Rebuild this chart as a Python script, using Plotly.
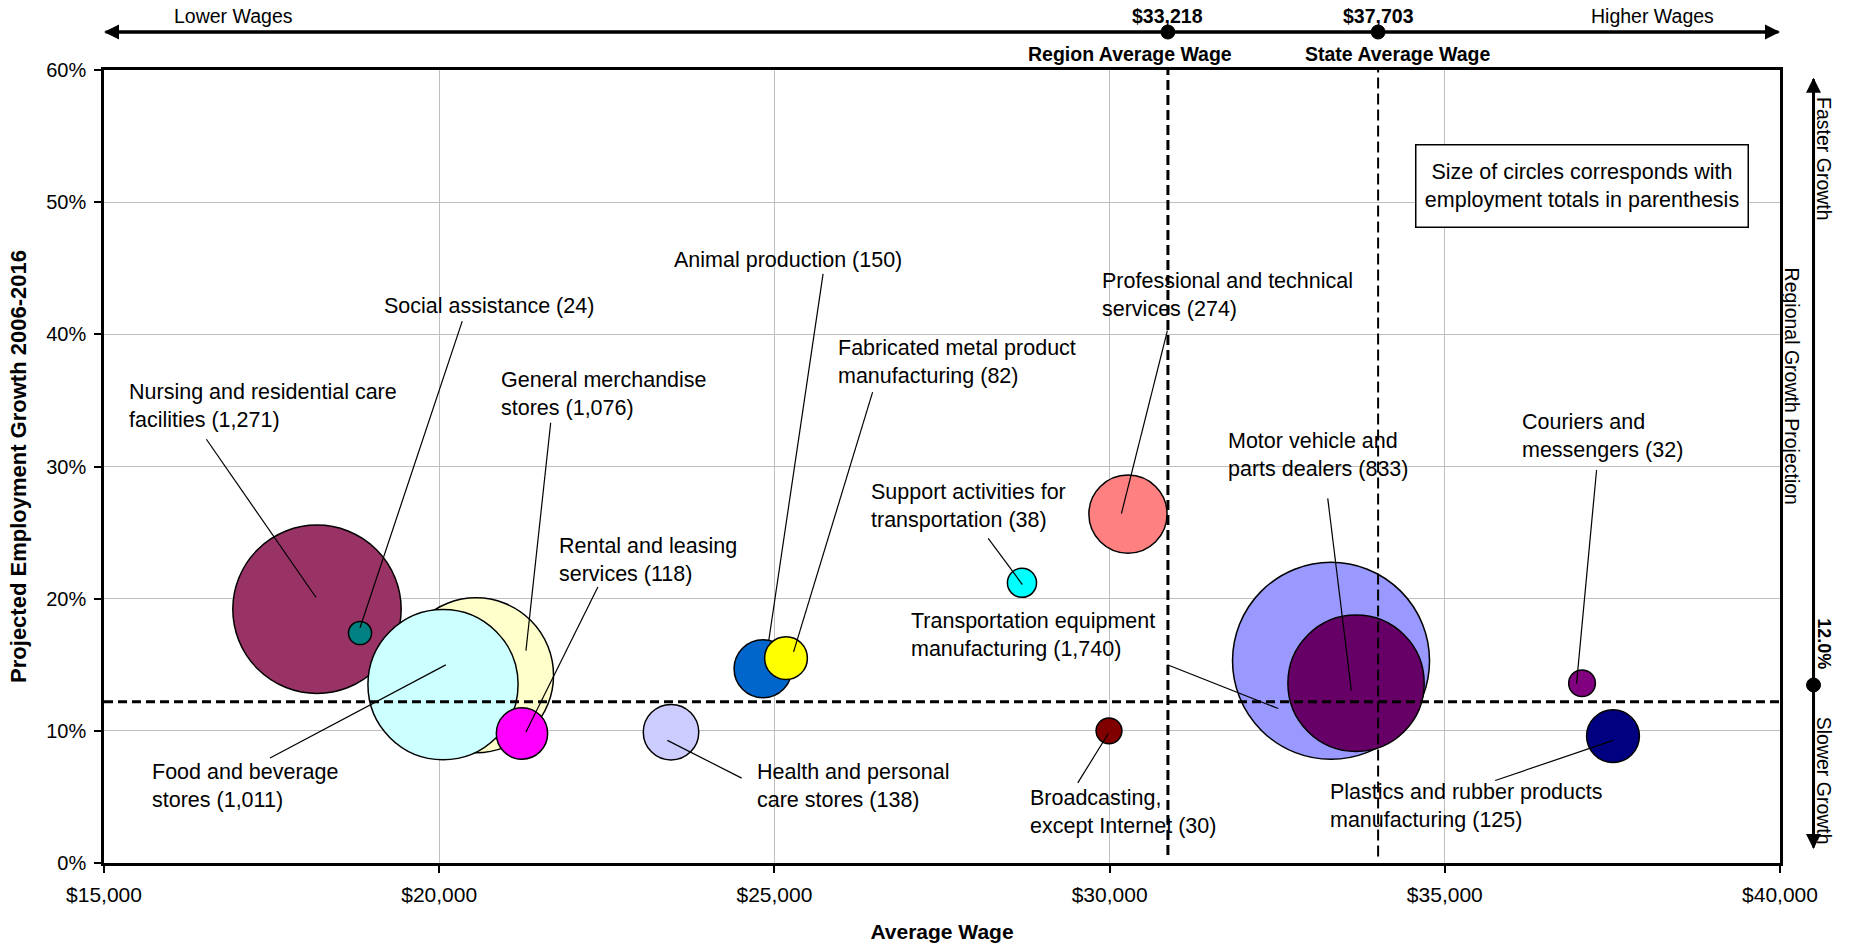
import plotly.graph_objects as go

# ---------------- data ----------------
industries = [
    "Nursing and residential care facilities",
    "Social assistance",
    "General merchandise stores",
    "Food and beverage stores",
    "Rental and leasing services",
    "Health and personal care stores",
    "Animal production",
    "Fabricated metal product manufacturing",
    "Support activities for transportation",
    "Professional and technical services",
    "Broadcasting, except Internet",
    "Transportation equipment manufacturing",
    "Motor vehicle and parts dealers",
    "Couriers and messengers",
    "Plastics and rubber products manufacturing",
]
label_text = [
    "Nursing and residential care<br>facilities (1,271)",
    "Social assistance (24)",
    "General merchandise<br>stores (1,076)",
    "Food and beverage<br>stores (1,011)",
    "Rental and leasing<br>services (118)",
    "Health and personal<br>care stores (138)",
    "Animal production (150)",
    "Fabricated metal product<br>manufacturing (82)",
    "Support activities for<br>transportation (38)",
    "Professional and technical<br>services (274)",
    "Broadcasting,<br>except Internet (30)",
    "Transportation equipment<br>manufacturing (1,740)",
    "Motor vehicle and<br>parts dealers (833)",
    "Couriers and<br>messengers (32)",
    "Plastics and rubber products<br>manufacturing (125)",
]
avg_wage = [18177, 18819, 20550, 20057, 21235, 23458, 24830, 25173,
            28693, 30274, 29991, 33303, 33676, 37047, 37509]
growth = [19.2, 17.4, 14.2, 13.5, 9.8, 9.9, 14.7, 15.5,
          21.2, 26.4, 10.0, 15.3, 13.6, 13.6, 9.6]
employment = [1271, 24, 1076, 1011, 118, 138, 150, 82,
              38, 274, 30, 1740, 833, 32, 125]

region_avg_label = "$33,218"
state_avg_label = "$37,703"
growth_proj_label = "12.0%"
# where the reference lines sit on the chart's own wage / growth scales
region_line_wage = 30870
state_line_wage = 34005
growth_line = 12.2

x_ticks = [15000, 20000, 25000, 30000, 35000, 40000]
y_ticks = [0, 10, 20, 30, 40, 50, 60]

# ---------------- styles / label layout ----------------
colors = ["#993366", "#008080", "#FFFFCC", "#CCFFFF", "#FF00FF", "#CCCCFF",
          "#0066CC", "#FFFF00", "#00FFFF", "#FF8080", "#800000", "#9999FF",
          "#660066", "#800080", "#000080"]

# text anchor (left edge, middle) in axis units
label_pos = [
    (15349, 34.6), (19148, 42.15), (20889, 35.5), (15683, 5.85),
    (21751, 22.95), (24706, 5.8), (23475, 45.64), (25920, 37.9),
    (26412, 27.0), (29859, 43.0), (28787, 3.88), (27010, 17.28),
    (31742, 30.85), (36121, 32.33), (33254, 4.32),
]
# leader line start -> end in axis units
leaders = [
    (16527, 32.06, 18163, 20.09),
    (20344, 41.0, 18819, 17.8),
    (21663, 33.31, 21294, 16.07),
    (22367, 20.89, 21294, 9.91),
    (17477, 7.94, 20098, 14.99),
    (24512, 6.42, 23404, 9.28),
    (25726, 44.57, 24917, 16.87),
    (26465, 35.63, 25286, 15.98),
    (28189, 24.56, 28699, 21.07),
    (30862, 40.28, 30176, 26.43),
    (30862, 15.0, 32515, 11.69),
    (29525, 6.06, 29983, 9.82),
    (33254, 27.59, 33606, 13.03),
    (37264, 29.74, 36965, 13.57),
    (35752, 6.24, 37511, 9.28),
]

FONT = "Liberation Sans, Arial, sans-serif"
LABEL_SIZE = 21.5

fig = go.Figure()
fig.add_trace(go.Scatter(
    x=avg_wage, y=growth, mode="markers",
    text=industries, hoverinfo="text",
    marker=dict(size=employment, sizemode="area",
                sizeref=2 * max(employment) / (197 ** 2),
                color=colors, opacity=1,
                line=dict(color="black", width=1.5)),
    showlegend=False,
))

shapes = []
# reference lines
shapes.append(dict(type="line", xref="paper", x0=0, x1=1, yref="y",
                   y0=growth_line, y1=growth_line, layer="above",
                   line=dict(color="black", width=3, dash="9px,5px")))
shapes.append(dict(type="line", xref="x", x0=region_line_wage, x1=region_line_wage,
                   yref="y", y0=0.6, y1=60, layer="above",
                   line=dict(color="black", width=3, dash="10px,5px")))
shapes.append(dict(type="line", xref="x", x0=state_line_wage, x1=state_line_wage,
                   yref="y", y0=0.5, y1=60, layer="above",
                   line=dict(color="black", width=2, dash="11px,5px")))
# leader lines
for (x0, y0, x1, y1) in leaders:
    shapes.append(dict(type="line", xref="x", yref="y", x0=x0, y0=y0, x1=x1, y1=y1,
                       layer="above", line=dict(color="black", width=1.2)))
# dots on the indicator arrows
TOP_Y = 1.0479
for xv in (region_line_wage, state_line_wage):
    shapes.append(dict(type="circle", xref="x", yref="paper",
                       xsizemode="pixel", ysizemode="pixel",
                       xanchor=xv, yanchor=TOP_Y, x0=-7, x1=7, y0=-7, y1=7,
                       fillcolor="black", line=dict(color="black", width=1)))
RIGHT_X = 1.0200
shapes.append(dict(type="circle", xref="paper", yref="paper",
                   xsizemode="pixel", ysizemode="pixel",
                   xanchor=RIGHT_X, yanchor=0.2245, x0=-7, x1=7, y0=-7, y1=7,
                   fillcolor="black", line=dict(color="black", width=1)))

annotations = []
for txt, (tx, ty) in zip(label_text, label_pos):
    annotations.append(dict(x=tx, y=ty, xref="x", yref="y", text=txt,
                            showarrow=False, xanchor="left", yanchor="middle",
                            align="left", font=dict(family=FONT, size=LABEL_SIZE, color="black")))

# note box
annotations.append(dict(x=0.8819, y=0.8537, xref="paper", yref="paper",
                        text="Size of circles corresponds with<br>employment totals in parenthesis",
                        showarrow=False, xanchor="center", yanchor="middle", align="center",
                        width=331, height=81, bgcolor="white", bordercolor="black",
                        borderwidth=1.5, borderpad=0,
                        font=dict(family=FONT, size=21.5, color="black")))

# horizontal wage arrow (two heads)
arrow_len_px = 1676
for xh, axv in ((0, arrow_len_px), (1, -arrow_len_px)):
    annotations.append(dict(x=xh, y=TOP_Y, xref="paper", yref="paper", text="",
                            showarrow=True, ax=axv, ay=0, axref="pixel", ayref="pixel",
                            arrowhead=2, arrowsize=1, arrowwidth=3, arrowcolor="black",
                            standoff=0, startstandoff=0))
# vertical growth arrow (two heads)
v_top, v_bot = 0.9901, 0.0177
v_len_px = (v_top - v_bot) * 793
for yh, ayv in ((v_top, v_len_px), (v_bot, -v_len_px)):
    annotations.append(dict(x=RIGHT_X, y=yh, xref="paper", yref="paper", text="",
                            showarrow=True, ax=0, ay=ayv, axref="pixel", ayref="pixel",
                            arrowhead=2, arrowsize=1, arrowwidth=3, arrowcolor="black",
                            standoff=0, startstandoff=0))

small = dict(family=FONT, size=19.5, color="black")
C = dict(showarrow=False, xanchor="center", yanchor="middle")
annotations += [
    dict(x=0.0773, y=1.068, xref="paper", yref="paper", text="Lower Wages", font=small, **C),
    dict(x=0.9237, y=1.068, xref="paper", yref="paper", text="Higher Wages", font=small, **C),
    dict(x=region_line_wage, y=1.0675, xref="x", yref="paper",
         text="<b>%s</b>" % region_avg_label, font=small, **C),
    dict(x=state_line_wage, y=1.0675, xref="x", yref="paper",
         text="<b>%s</b>" % state_avg_label, font=small, **C),
    dict(x=30304, y=1.0199, xref="x", yref="paper", text="<b>Region Average Wage</b>",
         font=small, **C),
    dict(x=34301, y=1.0199, xref="x", yref="paper", text="<b>State Average Wage</b>",
         font=small, **C),
    dict(x=1.0262, y=0.8878, xref="paper", yref="paper", text="Faster Growth",
         textangle=90, font=small, **C),
    dict(x=1.0072, y=0.602, xref="paper", yref="paper", text="Regional Growth Projection",
         textangle=90, font=small, **C),
    dict(x=1.0263, y=0.277, xref="paper", yref="paper", text="<b>%s</b>" % growth_proj_label,
         textangle=90, font=dict(family=FONT, size=18, color="black"), **C),
    dict(x=1.0262, y=0.1039, xref="paper", yref="paper", text="Slower Growth",
         textangle=90, font=small, **C),
]

axis_common = dict(showgrid=True, gridcolor="#BFBFBF", gridwidth=1,
                   showline=True, linecolor="black", linewidth=2.5, mirror=True,
                   ticks="outside", ticklen=7, tickwidth=1.5, tickcolor="black",
                   zeroline=False)

fig.update_layout(
    width=1849, height=948,
    margin=dict(l=104, r=69, t=70, b=85, autoexpand=False),
    paper_bgcolor="white", plot_bgcolor="white",
    font=dict(family=FONT, color="black"),
    xaxis=dict(range=[15000, 40000], tickvals=x_ticks,
               ticktext=["$" + format(v, ",") for v in x_ticks],
               ticklabelstandoff=4,
               tickfont=dict(family=FONT, size=21, color="black"),
               title=dict(text="<b>Average Wage</b>", standoff=20,
                          font=dict(family=FONT, size=21, color="black")),
               **axis_common),
    yaxis=dict(range=[0, 60], tickvals=y_ticks,
               ticktext=["%d%%" % v for v in y_ticks],
               ticklabelstandoff=4,
               tickfont=dict(family=FONT, size=20, color="black"),
               title=dict(text="<b>Projected Employment Growth 2006-2016</b>", standoff=14,
                          font=dict(family=FONT, size=22, color="black")),
               **axis_common),
    shapes=shapes,
    annotations=annotations,
    hovermode="closest",
)

fig.write_html("out.html", config={"displayModeBar": False},
               post_script="document.body.style.margin='0px';")
